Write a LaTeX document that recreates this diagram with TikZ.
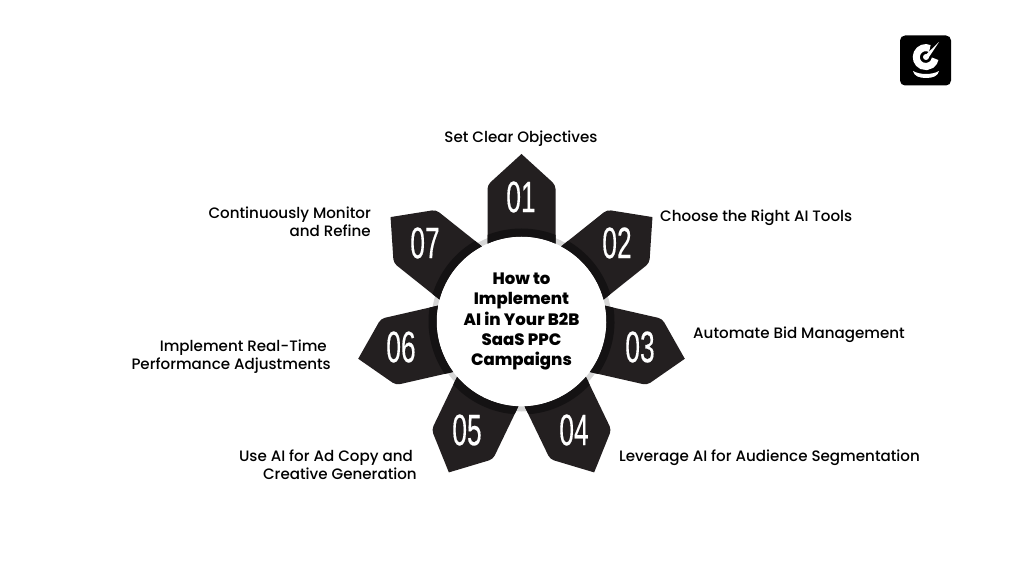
\documentclass[tikz,border=0pt]{standalone}
\usepackage{fontspec}
\setmainfont{Poppins}[UprightFont=* Medium]
\newfontfamily\numfont[FakeBold=.4]{Liberation Sans}
\definecolor{petalgray}{HTML}{231F20}
\definecolor{petaldark}{HTML}{141213}
\definecolor{ringgray}{HTML}{D6D6D6}
\newcommand{\petalpath}{(-34,77.9) arc[start angle=113.6,end angle=66.4,radius=85] [rounded corners=4pt] -- (34,136.5) [sharp corners] -- (0,167.5) [rounded corners=4pt] -- (-34,136.5) [sharp corners] -- cycle}
\tikzset{
  petal/.pic={
    \fill[petalgray] \petalpath;
    \begin{scope}
      \clip \petalpath;
      \draw[petaldark,line width=8pt] (0,0) circle[radius=89];
    \end{scope}
  },
  steplabel/.style={font=\fontsize{15.1}{18}\selectfont,inner sep=0pt}
}
\begin{document}
\begin{tikzpicture}[x=1pt,y=1pt]
  \useasboundingbox (0,0) rectangle (1024,576);

  \node (hub) at (521.5,254.5) [circle,fill=white,draw=ringgray,line width=5pt,minimum size=175pt,inner sep=0pt,outer sep=0pt] {};

  \begin{scope}[shift={(521.5,254.5)}]
    \pic[rotate=0] {petal};
    \pic[rotate=-51.43] {petal};
    \pic[rotate=-102.86] {petal};
    \pic[rotate=-154.29] {petal};
    \pic[rotate=154.29] {petal};
    \pic[rotate=102.86] {petal};
    \pic[rotate=51.43] {petal};
  \end{scope}

  \node[align=center,inner sep=0pt,font=\fontsize{16.5}{20.3}\selectfont\bfseries] (title) at (hub.center) {How to\\Implement\\AI in Your B2B\\SaaS PPC\\Campaigns};

  \begin{scope}[every node/.style={white,xscale=.6,transform shape,inner sep=0pt,font=\fontsize{44}{44}\selectfont\numfont}]
    \node (n1) at (521,379) {01};
    \node (n2) at (617,333) {02};
    \node (n3) at (640,229) {03};
    \node (n4) at (574,146) {04};
    \node (n5) at (467,146) {05};
    \node (n6) at (401,229) {06};
    \node (n7) at (425,333) {07};
  \end{scope}

  \begin{scope}[every node/.style={steplabel}]
    \node (l1) at (521,437) {Set Clear Objectives};
    \node[anchor=west] (l2) at (660,358) {Choose the Right AI Tools};
    \node[anchor=west] (l3) at (693,241) {Automate Bid Management};
    \node[anchor=west] (l4) at (619,118) {Leverage AI for Audience Segmentation};
    \node[anchor=east,align=right] (l5) at (417,111) {Use AI for Ad Copy and\kern4pt\\Creative Generation};
    \node[anchor=east,align=right] (l6) at (331,219.5) {Implement Real-Time\kern4pt\\Performance Adjustments};
    \node[anchor=east,align=right] (l7) at (371,354.5) {Continuously Monitor\\and Refine};
  \end{scope}

  % logo
  \node[fill=black,rounded corners=5pt,minimum width=51pt,minimum height=50pt,inner sep=0pt] (logo) at (925.5,515.5) {};
  \draw[white,line width=7pt] (929.8,527.5) arc[start angle=65,end angle=350,radius=9.5];
  \fill[white] (926,519) circle[radius=3];
  \fill[white] (924.5,520) -- (939,534) -- (928,517.5) -- cycle;
  \fill[white] (913,505) .. controls (920,501) and (932,501) .. (939,505) .. controls (938,500) and (933,498) .. (926,498) .. controls (919,498) and (914,500) .. (913,505) -- cycle;
\end{tikzpicture}
\end{document}
